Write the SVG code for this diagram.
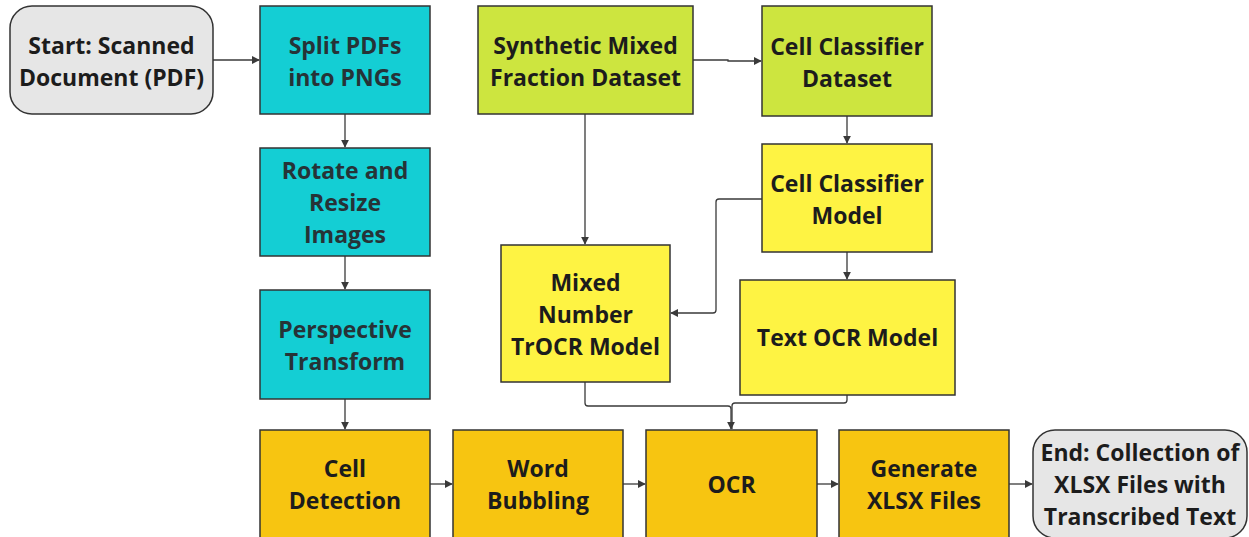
<svg xmlns="http://www.w3.org/2000/svg" width="1249" height="537" viewBox="0 0 1249 537">
  <style>
    .box { stroke: #333333; stroke-width: 1.5; }
    .term { fill: #e6e6e6; }
    .prep { fill: #14ced4; }
    .data { fill: #cde53f; }
    .model { fill: #fef343; }
    .step { fill: #f7c511; }
    .lbl { font-family: "Open Sans", "Liberation Sans", sans-serif; font-weight: 700; font-size: 23px; fill: #1c1c1c; text-anchor: middle; }
    .prep-lbl { fill: #263337; }
    .conn { fill: none; stroke: #3a3a3a; stroke-width: 1.3; }
  </style>
  <defs>
    <marker id="arrow" viewBox="0 0 10 10" refX="9" refY="5" markerWidth="8" markerHeight="8" markerUnits="userSpaceOnUse" orient="auto">
      <path d="M0,0 L10,5 L0,10 z" fill="#3a3a3a"/>
    </marker>
  </defs>

  <rect width="1249" height="537" fill="#ffffff"/>

  <!-- connectors -->
  <g id="connectors">
    <path class="conn" d="M213,60 H259" marker-end="url(#arrow)"/>
    <path class="conn" d="M345,114 V147" marker-end="url(#arrow)"/>
    <path class="conn" d="M345,256 V289" marker-end="url(#arrow)"/>
    <path class="conn" d="M345,399 V429" marker-end="url(#arrow)"/>
    <path class="conn" d="M430,484 H452" marker-end="url(#arrow)"/>
    <path class="conn" d="M623,484 H645" marker-end="url(#arrow)"/>
    <path class="conn" d="M817,484 H838" marker-end="url(#arrow)"/>
    <path class="conn" d="M1009,484 H1032" marker-end="url(#arrow)"/>
    <path class="conn" d="M693,60 H728 V61 H761" marker-end="url(#arrow)"/>
    <path class="conn" d="M585,114 V244" marker-end="url(#arrow)"/>
    <path class="conn" d="M847,116 V143" marker-end="url(#arrow)"/>
    <path class="conn" d="M847,252 V279" marker-end="url(#arrow)"/>
    <path class="conn" d="M762,199 H719 Q716,199 716,202 V310 Q716,313 713,313 H671" marker-end="url(#arrow)"/>
    <path class="conn" d="M585,382 V403 Q585,406 588,406 H728 Q731,406 731,409 V429" marker-end="url(#arrow)"/>
    <path class="conn" d="M847,395 V400 Q847,403 844,403 H735 Q732,403 732,406 V429"/>
  </g>

  <!-- nodes -->
  <g id="start">
    <rect class="box term" x="10" y="6" width="203" height="108" rx="22"/>
    <text class="lbl" x="111.5" y="53.5">Start: Scanned</text>
    <text class="lbl" x="111.5" y="85.5">Document (PDF)</text>
  </g>
  <g id="split">
    <rect class="box prep" x="260" y="6" width="170" height="108"/>
    <text class="lbl prep-lbl" x="345" y="53.5">Split PDFs</text>
    <text class="lbl prep-lbl" x="345" y="85.5">into PNGs</text>
  </g>
  <g id="rotate">
    <rect class="box prep" x="260" y="148" width="170" height="108"/>
    <text class="lbl prep-lbl" x="345" y="178.5">Rotate and</text>
    <text class="lbl prep-lbl" x="345" y="210.5">Resize</text>
    <text class="lbl prep-lbl" x="345" y="242.5">Images</text>
  </g>
  <g id="perspective">
    <rect class="box prep" x="260" y="290" width="170" height="109"/>
    <text class="lbl prep-lbl" x="345" y="337.5">Perspective</text>
    <text class="lbl prep-lbl" x="345" y="369.5">Transform</text>
  </g>
  <g id="synthetic">
    <rect class="box data" x="478" y="6" width="215" height="108"/>
    <text class="lbl" x="585.5" y="53.5">Synthetic Mixed</text>
    <text class="lbl" x="585.5" y="85.5">Fraction Dataset</text>
  </g>
  <g id="classifier-dataset">
    <rect class="box data" x="762" y="6" width="170" height="110"/>
    <text class="lbl" x="847" y="54.5">Cell Classifier</text>
    <text class="lbl" x="847" y="86.5">Dataset</text>
  </g>
  <g id="classifier-model">
    <rect class="box model" x="762" y="144" width="170" height="108"/>
    <text class="lbl" x="847" y="191.5">Cell Classifier</text>
    <text class="lbl" x="847" y="223.5">Model</text>
  </g>
  <g id="trocr">
    <rect class="box model" x="501" y="245" width="169" height="137"/>
    <text class="lbl" x="585.5" y="290.5">Mixed</text>
    <text class="lbl" x="585.5" y="322.5">Number</text>
    <text class="lbl" x="585.5" y="354.5">TrOCR Model</text>
  </g>
  <g id="text-ocr">
    <rect class="box model" x="740" y="280" width="215" height="115"/>
    <text class="lbl" x="847.5" y="346">Text OCR Model</text>
  </g>
  <g id="cell-detection">
    <rect class="box step" x="260" y="430" width="170" height="108"/>
    <text class="lbl" x="345" y="476.5">Cell</text>
    <text class="lbl" x="345" y="508.5">Detection</text>
  </g>
  <g id="word-bubbling">
    <rect class="box step" x="453" y="430" width="170" height="108"/>
    <text class="lbl" x="538" y="476.5">Word</text>
    <text class="lbl" x="538" y="508.5">Bubbling</text>
  </g>
  <g id="ocr">
    <rect class="box step" x="646" y="430" width="171" height="108"/>
    <text class="lbl" x="731.5" y="492.5">OCR</text>
  </g>
  <g id="generate">
    <rect class="box step" x="839" y="430" width="170" height="108"/>
    <text class="lbl" x="924" y="476.5">Generate</text>
    <text class="lbl" x="924" y="508.5">XLSX Files</text>
  </g>
  <g id="end">
    <rect class="box term" x="1033" y="430" width="214" height="108" rx="22"/>
    <text class="lbl" x="1140" y="460.5">End: Collection of</text>
    <text class="lbl" x="1140" y="492.5">XLSX Files with</text>
    <text class="lbl" x="1140" y="524.5">Transcribed Text</text>
  </g>
</svg>
